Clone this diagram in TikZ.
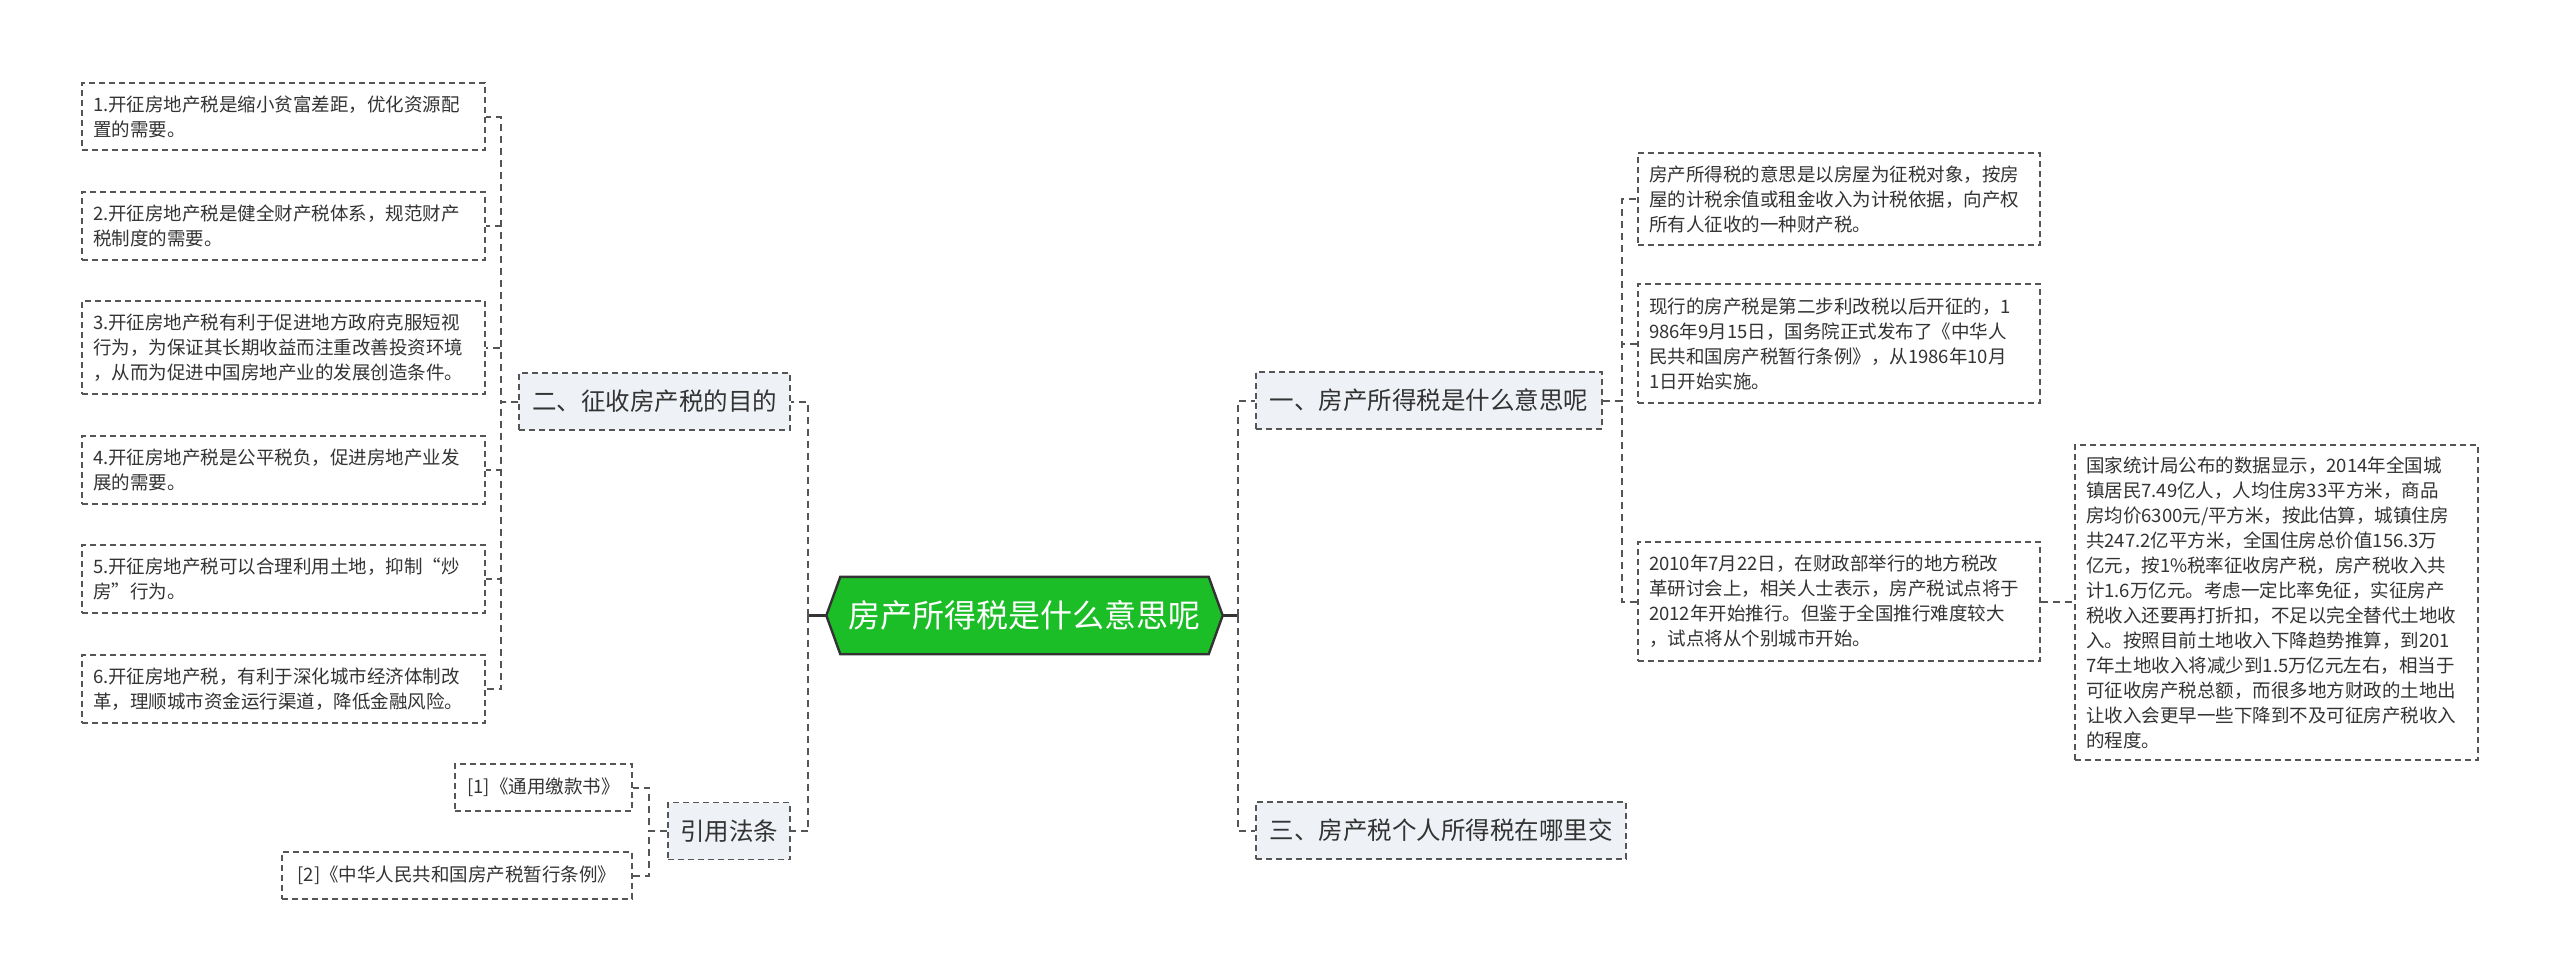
\documentclass[tikz,border=0pt]{standalone}
\usepackage{fontspec}
\setmainfont{Noto Sans CJK SC}
\usetikzlibrary{backgrounds}
\definecolor{txt}{HTML}{333333}
\definecolor{bline}{HTML}{555555}
\definecolor{midfill}{RGB}{238,241,245}
\definecolor{cgreen}{RGB}{28,190,40}
\definecolor{cborder}{HTML}{333333}
\tikzset{
  box/.style={draw=bline, line width=1.4pt, dash pattern=on 6pt off 4pt, text=txt, inner xsep=11pt, inner ysep=0pt},
  leaf/.style={box, fill=white, font=\fontsize{18.5}{25}\selectfont, align=left},
  refbox/.style={box, fill=white, font=\fontsize{18.5}{25}\selectfont, inner xsep=0pt, minimum height=47pt},
  mid/.style={box, fill=midfill, font=\fontsize{24.5}{30}\selectfont, inner xsep=0pt, minimum height=57pt},
  conn/.style={draw=bline, line width=2pt, dash pattern=on 7pt off 5pt},
  csolid/.style={draw=cborder, line width=2.4pt},
  central/.style={text=white, font=\fontsize{32}{38}\selectfont, minimum width=368pt, minimum height=77pt, inner sep=0pt},
}
\begin{document}
\begin{tikzpicture}[x=1pt,y=-1pt]
\useasboundingbox (0,0) rectangle (2560,975);

% central node
\node[central] (cen) at (1024.5,615.5) {房产所得税是什么意思呢};
\coordinate (cenL) at ([xshift=-14pt]cen.west);
\coordinate (cenR) at ([xshift=14pt]cen.east);
\begin{scope}[on background layer]
  \draw[fill=cgreen, draw=cborder, line width=2.4pt, line join=miter]
    (cen.north west) -- (cen.north east) -- (cenR) -- (cen.south east)
    -- (cen.south west) -- (cenL) -- cycle;
\end{scope}
\coordinate (cL) at (808,615.5);
\coordinate (cR) at (1238,615.5);

% level 1
\node[mid, minimum width=271pt] (er) at (654.5,401.5) {二、征收房产税的目的};
\node[mid, minimum width=122pt] (yy) at (729,831) {引用法条};
\node[mid, minimum width=346pt] (yi) at (1429,400.5) {一、房产所得税是什么意思呢};
\node[mid, minimum width=370pt] (san) at (1441,830.5) {三、房产税个人所得税在哪里交};

% left leaves
\node[leaf, text width=381pt, minimum height=67pt] (n1) at (283.5,116.5)
  {1.开征房地产税是缩小贫富差距，优化资源配\\置的需要。};
\node[leaf, text width=381pt, minimum height=68pt] (n2) at (283.5,226)
  {2.开征房地产税是健全财产税体系，规范财产\\税制度的需要。};
\node[leaf, text width=381pt, minimum height=93pt] (n3) at (283.5,347.5)
  {3.开征房地产税有利于促进地方政府克服短视\\行为，为保证其长期收益而注重改善投资环境\\，从而为促进中国房地产业的发展创造条件。};
\node[leaf, text width=381pt, minimum height=68pt] (n4) at (283.5,470)
  {4.开征房地产税是公平税负，促进房地产业发\\展的需要。};
\node[leaf, text width=381pt, minimum height=68pt] (n5) at (283.5,579)
  {5.开征房地产税可以合理利用土地，抑制“炒\\房”行为。};
\node[leaf, text width=381pt, minimum height=68pt] (n6) at (283.5,689)
  {6.开征房地产税，有利于深化城市经济体制改\\革，理顺城市资金运行渠道，降低金融风险。};

% references
\node[refbox, minimum width=177pt] (r1) at (543.5,787.5) {[1]《通用缴款书》};
\node[refbox, minimum width=350pt] (r2) at (457,875.5) {[2]《中华人民共和国房产税暂行条例》};

% right leaves
\node[leaf, text width=380pt, minimum height=92pt] (ra) at (1839,199)
  {房产所得税的意思是以房屋为征税对象，按房\\屋的计税余值或租金收入为计税依据，向产权\\所有人征收的一种财产税。};
\node[leaf, text width=380pt, minimum height=119pt] (rb) at (1839,343.5)
  {现行的房产税是第二步利改税以后开征的，1\\986年9月15日，国务院正式发布了《中华人\\民共和国房产税暂行条例》，从1986年10月\\1日开始实施。};
\node[leaf, text width=380pt, minimum height=119pt] (rc) at (1839,601.5)
  {2010年7月22日，在财政部举行的地方税改\\革研讨会上，相关人士表示，房产税试点将于\\2012年开始推行。但鉴于全国推行难度较大\\，试点将从个别城市开始。};
\node[leaf, text width=381pt, minimum height=315pt] (rd) at (2276.5,602.5)
  {国家统计局公布的数据显示，2014年全国城\\镇居民7.49亿人，人均住房33平方米，商品\\房均价6300元/平方米，按此估算，城镇住房\\共247.2亿平方米，全国住房总价值156.3万\\亿元，按1\%税率征收房产税，房产税收入共\\计1.6万亿元。考虑一定比率免征，实征房产\\税收入还要再打折扣，不足以完全替代土地收\\入。按照目前土地收入下降趋势推算，到201\\7年土地收入将减少到1.5万亿元左右，相当于\\可征收房产税总额，而很多地方财政的土地出\\让收入会更早一些下降到不及可征房产税收入\\的程度。};

% connectors from central
\draw[csolid] (cenL) -- (cL);
\draw[csolid] (cenR) -- (cR);
\draw[conn] (cL) |- (er.east);
\draw[conn] (cL) |- (yy.east);
\draw[conn] (cR) |- (yi.west);
\draw[conn] (cR) |- (san.west);

% er children
\foreach \n in {n1,n2,n3,n4,n5,n6}
  \draw[conn] (er.west) -- ++(-17,0) |- (\n.east);

% yy children
\foreach \n in {r1,r2}
  \draw[conn] (yy.west) -- ++(-18,0) |- (\n.east);

% yi children
\foreach \n in {ra,rb,rc}
  \draw[conn] (yi.east) -- ++(19,0) |- (\n.west);

\draw[conn] (rc.east) -- (rc.east -| rd.west);
\end{tikzpicture}
\end{document}
